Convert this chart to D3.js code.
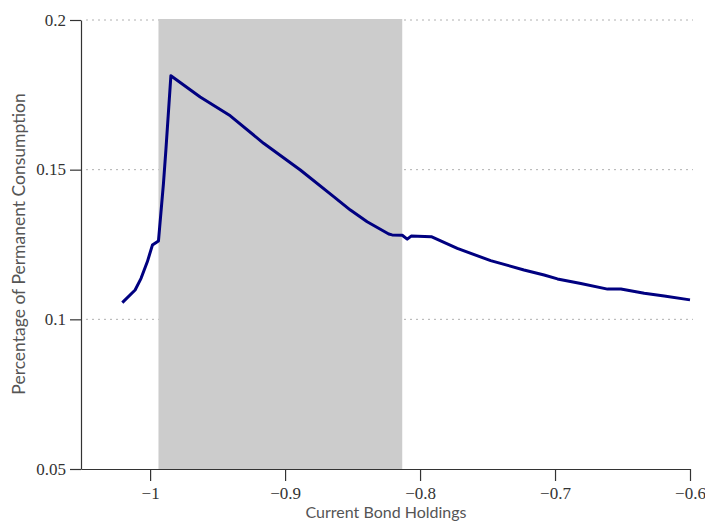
<!DOCTYPE html>
<html><head><meta charset="utf-8">
<script src="https://cdn.jsdelivr.net/npm/d3@7"></script>
<style>body{margin:0;background:#fff}</style>
</head><body>
<svg id="c" width="705" height="523"></svg>
<script>
const bondX = [-1.0206,-1.0111,-1.0067,-1.0020,-0.9983,-0.9938,-0.9901,-0.9883,-0.9846,-0.9629,-0.9406,-0.9159,-0.8887,-0.8640,-0.8516,-0.8392,-0.8232,-0.8207,-0.8132,-0.8095,-0.8066,-0.7917,-0.7724,-0.7477,-0.7230,-0.7081,-0.6982,-0.6809,-0.6611,-0.6512,-0.6339,-0.6191,-0.6000];
const consY = [0.1056,0.1098,0.1137,0.1193,0.1248,0.1262,0.1454,0.1566,0.1814,0.1743,0.1680,0.1588,0.1499,0.1410,0.1365,0.1326,0.1285,0.1282,0.1281,0.1268,0.1278,0.1276,0.1237,0.1196,0.1165,0.1148,0.1135,0.1120,0.1101,0.1101,0.1087,0.1078,0.1065];
const shadeRange = [-0.9938, -0.8132];
const xTicks = [-1,-0.9,-0.8,-0.7,-0.6];
const yTicks = [0.05,0.1,0.15,0.2];
const xLabel = "Current Bond Holdings";
const yLabel = "Percentage of Permanent Consumption";

const svg = d3.select("#c");
const x = d3.scaleLinear().domain([-1.0512,-0.6]).range([81,690]);
const y = d3.scaleLinear().domain([0.05,0.2]).range([469,20]);

svg.append("g").selectAll("line").data(yTicks.filter(d=>d>0.05)).join("line")
  .attr("x1",86).attr("x2",693).attr("y1",d=>y(d)).attr("y2",d=>y(d))
  .attr("stroke","#b0b0b0").attr("stroke-width",1).attr("stroke-dasharray","2,4");
svg.append("rect").attr("x",x(shadeRange[0])).attr("y",y(0.2)-1)
  .attr("width",x(shadeRange[1])-x(shadeRange[0])).attr("height",y(0.05)-y(0.2)+1)
  .attr("fill","#cccccc");

const pts = bondX.map((b,i)=>[b,consY[i]]);
svg.append("path").datum(pts)
  .attr("d",d3.line().x(d=>x(d[0])).y(d=>y(d[1])))
  .attr("fill","none").attr("stroke","#000080").attr("stroke-width",3).attr("stroke-linejoin","round");

const serif = "'Liberation Serif', 'Times New Roman', Times, serif";
const xa = svg.append("g").attr("transform","translate(0,469)")
  .call(d3.axisBottom(x).tickValues(xTicks).tickSize(12).tickSizeOuter(0).tickPadding(2)
    .tickFormat(d=>d3.format("")(d).replace("-","\u2212")));
const ya = svg.append("g").attr("transform","translate(81,0)")
  .call(d3.axisLeft(y).tickValues(yTicks).tickSize(11).tickSizeOuter(0).tickPadding(4).tickFormat(d=>d3.format("")(d)));
[xa,ya].forEach(g=>{
  g.attr("font-family",serif).attr("font-size",17);
  g.selectAll("path").style("stroke","#333").style("stroke-width","1.2px");
  g.selectAll("line").style("stroke","#333").style("stroke-width","1.2px");
  g.selectAll("text").style("font-family",serif).style("font-size","17px").style("fill","#333");
});
xa.selectAll(".tick text").attr("dy","0.95em");
ya.selectAll(".tick text").attr("dy","0.3em");

svg.append("text").attr("x",386).attr("y",518).attr("text-anchor","middle")
  .style("font-family","Lato, 'DejaVu Sans', sans-serif").style("font-size","16px").style("fill","#555").text(xLabel);
svg.append("text").attr("transform","translate(25,244) rotate(-90)").attr("text-anchor","middle")
  .style("font-family","Lato, 'DejaVu Sans', sans-serif").style("font-size","17.5px").style("fill","#555").text(yLabel);
</script>
</body></html>
